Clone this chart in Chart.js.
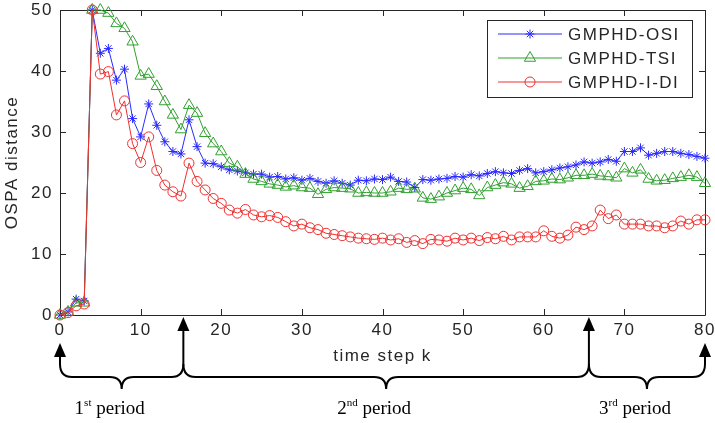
<!DOCTYPE html>
<html>
<head>
    <title>OSPA distance over time steps</title>
    <script src="https://cdn.jsdelivr.net/npm/chart.js"></script>
    <style>
        body { margin: 0; background: #fff; }
        #wrap { width: 715px; height: 423px; }
    </style>
</head>
<body>
    <div id="wrap"><canvas id="ospaChart" width="715" height="423"></canvas></div>

    <script>
        // time steps k
        const timeSteps = [0, 1, 2, 3, 4, 5, 6, 7, 8, 9, 10, 11, 12, 13, 14, 15, 16, 17, 18, 19, 20,
            21, 22, 23, 24, 25, 26, 27, 28, 29, 30, 31, 32, 33, 34, 35, 36, 37, 38, 39, 40,
            41, 42, 43, 44, 45, 46, 47, 48, 49, 50, 51, 52, 53, 54, 55, 56, 57, 58, 59, 60,
            61, 62, 63, 64, 65, 66, 67, 68, 69, 70, 71, 72, 73, 74, 75, 76, 77, 78, 79, 80];

        // OSPA distance
        const osiValues = [0, 0.5, 2.6, 2.3, 50, 42.9, 43.7, 38.5, 40.3, 32.2, 29.2, 34.6, 31.1, 28.4, 26.8,
            26.4, 32.0, 27.6, 24.9, 24.8, 24.3, 23.8, 23.6, 23.3, 23.1, 23.1, 22.6, 22.7, 22.3, 22.5, 22.1,
            22.4, 21.9, 21.6, 22.0, 21.6, 21.3, 22.1, 22.0, 22.3, 22.2, 22.6, 21.9, 21.8, 20.9, 22.2, 22.1,
            22.3, 22.4, 22.7, 22.6, 23.0, 22.8, 23.2, 23.5, 23.3, 23.2, 23.7, 24.0, 23.3, 23.5, 23.8, 24.1,
            24.3, 24.6, 25.1, 24.9, 25.1, 25.5, 25.2, 26.8, 26.8, 27.4, 26.2, 26.5, 26.8, 26.8, 26.5, 26.3,
            26.0, 25.7];
        const tsiValues = [0, 0.5, 2.0, 2.0, 50, 50, 49.5, 47.8, 47.0, 44.8, 39.2, 39.5, 37.5, 35.0, 32.8,
            30.4, 34.4, 33.1, 29.8, 28.1, 26.8, 24.9, 24.3, 23.1, 22.3, 21.9, 21.5, 21.3, 21.0, 21.2, 20.9,
            20.8, 19.8, 20.6, 20.9, 20.8, 20.7, 20.0, 20.1, 20.0, 20.0, 20.2, 20.8, 20.6, 20.7, 19.2, 19.0,
            19.4, 20.0, 20.4, 20.8, 20.6, 19.6, 20.9, 21.3, 21.7, 21.5, 20.8, 21.1, 21.9, 22.0, 22.3, 22.2,
            22.5, 22.9, 22.9, 23.1, 22.8, 22.7, 22.5, 24.0, 23.3, 23.8, 22.3, 22.0, 22.1, 22.4, 22.6, 22.9,
            22.6, 21.6];
        const idiValues = [0, 0.4, 1.5, 1.8, 50, 39.5, 39.9, 32.8, 35.1, 28.1, 25.0, 29.2, 23.7, 21.3, 20.2,
            19.5, 24.9, 21.9, 20.5, 19.1, 18.3, 17.2, 16.7, 17.3, 16.4, 16.1, 16.3, 16.0, 15.3, 14.6, 14.9,
            14.3, 14.0, 13.4, 13.2, 13.0, 12.8, 12.6, 12.5, 12.4, 12.6, 12.3, 12.5, 11.9, 12.2, 11.7, 12.4,
            12.3, 12.1, 12.6, 12.3, 12.6, 12.2, 12.7, 12.5, 12.9, 12.3, 12.8, 12.8, 12.8, 13.8, 12.9, 12.6,
            13.1, 14.4, 14.0, 14.6, 17.2, 15.8, 16.4, 14.9, 14.9, 14.9, 14.6, 14.6, 14.3, 14.6, 15.4, 14.9,
            15.6, 15.6];

        const seriesNames = ['GMPHD-OSI', 'GMPHD-TSI', 'GMPHD-I-DI'];
        const xTicks = [0, 10, 20, 30, 40, 50, 60, 70, 80];
        const yTicks = [0, 10, 20, 30, 40, 50];

        // period boundaries under the x axis (in time steps) and their labels
        const periodBounds = [0, 15.3, 65.6, 80];
        const periodLabels = [['1', 'st'], ['2', 'nd'], ['3', 'rd']];

        const tickFont = { family: '"Liberation Sans", Arial, sans-serif', size: 17 };
        const ink = '#262626';

        // box, inward ticks, legend, arrows and braces
        const matlabLook = {
            id: 'matlabLook',
            beforeDraw(chart) {
                chart.ctx.letterSpacing = '1.5px';
            },
            beforeDatasetsDraw(chart) {
                const { ctx, chartArea: a, scales: { x, y } } = chart;
                ctx.save();
                ctx.strokeStyle = ink;
                ctx.lineWidth = 1;
                ctx.beginPath();
                x.ticks.forEach(t => {
                    const px = Math.round(x.getPixelForValue(t.value)) + 0.5;
                    ctx.moveTo(px, a.bottom); ctx.lineTo(px, a.bottom - 6);
                    ctx.moveTo(px, a.top); ctx.lineTo(px, a.top + 6);
                });
                y.ticks.forEach(t => {
                    const py = Math.round(y.getPixelForValue(t.value)) + 0.5;
                    ctx.moveTo(a.left, py); ctx.lineTo(a.left + 6, py);
                    ctx.moveTo(a.right, py); ctx.lineTo(a.right - 6, py);
                });
                ctx.rect(a.left + 0.5, a.top + 0.5, a.right - a.left, a.bottom - a.top);
                ctx.stroke();
                ctx.restore();
            },
            afterDraw(chart) {
                const { ctx, scales: { x } } = chart;
                ctx.save();

                // legend
                ctx.fillStyle = '#fff';
                ctx.fillRect(487, 20, 205, 77);
                ctx.strokeStyle = ink;
                ctx.lineWidth = 1;
                ctx.strokeRect(487.5, 20.5, 205, 77);
                chart.data.datasets.forEach((ds, i) => {
                    const ly = 34 + i * 24;
                    ctx.strokeStyle = ds.borderColor;
                    ctx.beginPath();
                    ctx.moveTo(498, ly); ctx.lineTo(562, ly);
                    ctx.stroke();
                    ctx.fillStyle = 'rgba(0,0,0,0)';
                    Chart.helpers.drawPoint(ctx, {
                        pointStyle: ds.pointStyle, radius: ds.pointRadius, rotation: 0, borderWidth: 1
                    }, 530, ly);
                    ctx.fillStyle = ink;
                    ctx.font = '17px "Liberation Sans", Arial, sans-serif';
                    ctx.textAlign = 'left';
                    ctx.textBaseline = 'middle';
                    ctx.fillText(ds.label, 568, ly + 1);
                });

                // arrows
                ctx.letterSpacing = '0px';
                ctx.strokeStyle = '#000';
                ctx.fillStyle = '#000';
                ctx.lineWidth = 2;
                const braceTop = 364, braceMid = 377, braceTip = 389, r = 12;
                const px = periodBounds.map(v => x.getPixelForValue(v));
                px.forEach((p, i) => {
                    const outer = i === 0 || i === px.length - 1;
                    const tipY = outer ? 343 : 317;
                    const baseY = tipY + 14;
                    ctx.beginPath();
                    ctx.moveTo(p, baseY - 1); ctx.lineTo(p, braceTop);
                    ctx.stroke();
                    ctx.beginPath();
                    ctx.moveTo(p, tipY);
                    ctx.lineTo(p - 6, baseY);
                    ctx.lineTo(p + 6, baseY);
                    ctx.closePath();
                    ctx.fill();
                });

                // braces and period labels
                for (let i = 0; i < px.length - 1; i++) {
                    const x1 = px[i], x2 = px[i + 1], m = (x1 + x2) / 2;
                    ctx.beginPath();
                    ctx.moveTo(x1, braceTop);
                    ctx.quadraticCurveTo(x1, braceMid, x1 + r, braceMid);
                    ctx.lineTo(m - r, braceMid);
                    ctx.quadraticCurveTo(m, braceMid, m, braceTip);
                    ctx.quadraticCurveTo(m, braceMid, m + r, braceMid);
                    ctx.lineTo(x2 - r, braceMid);
                    ctx.quadraticCurveTo(x2, braceMid, x2, braceTop);
                    ctx.stroke();

                    const big = '19px "Liberation Serif", "Times New Roman", serif';
                    const small = '11px "Liberation Serif", "Times New Roman", serif';
                    const [num, sup] = periodLabels[i];
                    ctx.font = big;
                    const wNum = ctx.measureText(num).width;
                    const wRest = ctx.measureText(' period').width;
                    ctx.font = small;
                    const wSup = ctx.measureText(sup).width;
                    let tx = m - 12 - (wNum + wSup + wRest) / 2;
                    const base = 414;
                    ctx.textAlign = 'left';
                    ctx.textBaseline = 'alphabetic';
                    ctx.font = big;
                    ctx.fillText(num, tx, base);
                    tx += wNum;
                    ctx.font = small;
                    ctx.fillText(sup, tx, base - 8);
                    tx += wSup;
                    ctx.font = big;
                    ctx.fillText(' period', tx, base);
                }
                ctx.restore();
            }
        };

        const ctx = document.getElementById('ospaChart').getContext('2d');
        new Chart(ctx, {
            type: 'line',
            data: {
                labels: timeSteps,
                datasets: [{
                    label: seriesNames[0],
                    data: osiValues,
                    borderColor: '#2a2aff',
                    pointBorderColor: '#2a2aff',
                    pointBackgroundColor: 'rgba(0,0,0,0)',
                    pointStyle: 'star',
                    pointRadius: 4.5,
                    order: 2
                },
                {
                    label: seriesNames[1],
                    data: tsiValues,
                    borderColor: '#30a030',
                    pointBorderColor: '#30a030',
                    pointBackgroundColor: 'rgba(0,0,0,0)',
                    pointStyle: 'triangle',
                    pointRadius: 6.5,
                    order: 1
                },
                {
                    label: seriesNames[2],
                    data: idiValues,
                    borderColor: '#f03030',
                    pointBorderColor: '#f03030',
                    pointBackgroundColor: 'rgba(0,0,0,0)',
                    pointStyle: 'circle',
                    pointRadius: 5,
                    order: 0
                }]
            },
            options: {
                responsive: false,
                animation: false,
                events: [],
                clip: false,
                datasets: {
                    line: { borderWidth: 1, pointBorderWidth: 1, tension: 0, clip: false }
                },
                layout: { padding: { left: 0, right: 10, top: 10, bottom: 53 } },
                scales: {
                    x: {
                        type: 'linear',
                        min: 0,
                        max: 80,
                        afterBuildTicks: s => { s.ticks = xTicks.map(v => ({ value: v })); },
                        afterFit: s => { s.height = 55; s.paddingLeft = 0; s.paddingRight = 0; },
                        grid: { display: false, drawTicks: false },
                        border: { display: false },
                        ticks: { font: tickFont, color: ink, padding: 5, maxRotation: 0 },
                        title: {
                            display: true,
                            text: 'time step k',
                            font: tickFont,
                            color: ink,
                            padding: { top: 0, bottom: 3 }
                        }
                    },
                    y: {
                        min: 0,
                        max: 50,
                        afterBuildTicks: s => { s.ticks = yTicks.map(v => ({ value: v })); },
                        afterFit: s => { s.width = 60; s.paddingTop = 0; s.paddingBottom = 0; },
                        grid: { display: false, drawTicks: false },
                        border: { display: false },
                        ticks: { font: tickFont, color: ink, padding: 7 },
                        title: {
                            display: true,
                            text: 'OSPA distance',
                            font: tickFont,
                            color: ink,
                            padding: { top: 2, bottom: 0 }
                        }
                    }
                },
                plugins: {
                    legend: { display: false },
                    tooltip: { enabled: false }
                }
            },
            plugins: [matlabLook]
        });
    </script>
</body>
</html>
